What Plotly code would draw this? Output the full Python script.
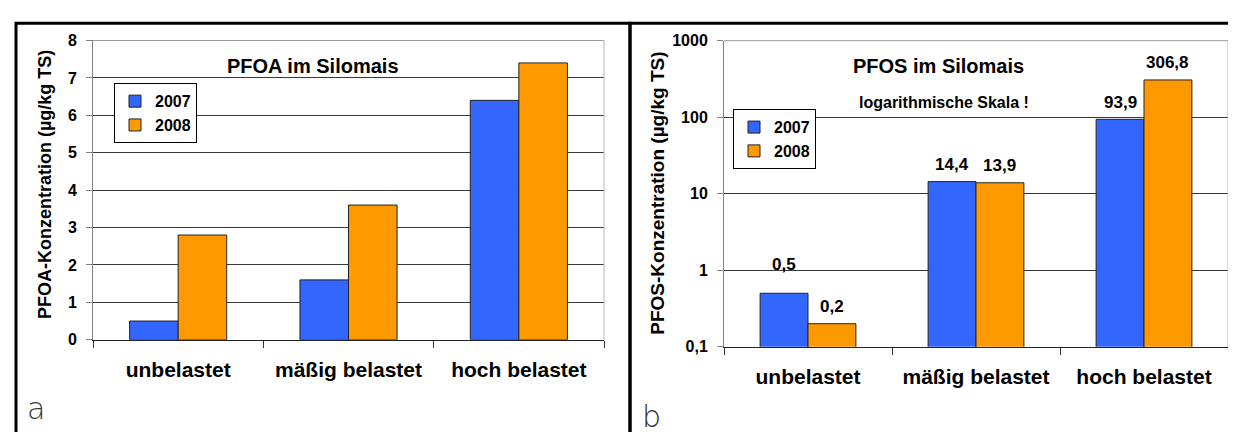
import math
import plotly.graph_objects as go

# ---------------- data ----------------
categories = ["unbelastet", "mäßig belastet", "hoch belastet"]
series_names = ["2007", "2008"]
pfoa_2007 = [0.5, 1.6, 6.4]
pfoa_2008 = [2.8, 3.6, 7.4]
pfos_2007 = [0.5, 14.4, 93.9]
pfos_2008 = [0.2, 13.9, 306.8]
pfoa_ticks = [0, 1, 2, 3, 4, 5, 6, 7, 8]
pfos_tickvals = [0.1, 1, 10, 100, 1000]
pfos_ticktext = ["0,1", "1", "10", "100", "1000"]
titles = ["PFOA im Silomais", "PFOS im Silomais"]
subtitle_b = "logarithmische Skala !"
ytitles = ["PFOA-Konzentration (µg/kg TS)", "PFOS-Konzentration (µg/kg TS)"]
panel_letters = ["a", "b"]

# ---------------- style ----------------
W, H = 1236, 432
FONT = "Liberation Sans, Arial, sans-serif"
BLUE = "#3366FF"
ORANGE = "#FF9900"
GRID = "#3a3a3a"
BARGAP = 0.43

def px_x(p):
    return p / W

def px_y(p):
    return 1 - p / H

# plot areas in pixels (left, right, top, bottom)
A = (85, 596, 25.5, 337)
B = (716, 1220, 25.7, 344.3)

fig = go.Figure()

for vals, name, col in [(pfoa_2007, series_names[0], BLUE), (pfoa_2008, series_names[1], ORANGE)]:
    fig.add_trace(go.Bar(x=categories, y=vals, name=name, marker=dict(color=col, line=dict(color="#222", width=1)),
                         xaxis="x", yaxis="y", legend="legend"))
for vals, name, col in [(pfos_2007, series_names[0], BLUE), (pfos_2008, series_names[1], ORANGE)]:
    fig.add_trace(go.Bar(x=categories, y=vals, name=name, marker=dict(color=col, line=dict(color="#222", width=1)),
                         xaxis="x2", yaxis="y2", legend="legend2"))

common_x = dict(type="category", showgrid=False, showline=True, linecolor="#222", linewidth=1,
                ticks="outside", tickson="boundaries", ticklen=7, tickcolor="#333",
                tickfont=dict(family=FONT, size=21, color="#000", weight="bold"),
                ticklabelstandoff=11, fixedrange=True)
common_y = dict(showgrid=True, gridcolor=GRID, gridwidth=1, zeroline=False, showline=True,
                linecolor="#808080", linewidth=1, ticks="outside", ticklen=6, tickcolor="#808080",
                tickfont=dict(family=FONT, size=16, color="#000", weight="bold"),
                ticklabelstandoff=6, fixedrange=True)

legend_style = dict(xanchor="left", yanchor="top", bgcolor="white", bordercolor="#000", borderwidth=1,
                    font=dict(family=FONT, size=16, color="#000", weight="bold"), tracegroupgap=0)

fig.update_layout(
    width=W, height=H, margin=dict(l=0, r=0, t=0, b=0),
    paper_bgcolor="white", plot_bgcolor="white",
    barmode="group", bargap=BARGAP, bargroupgap=0,
    xaxis=dict(domain=[px_x(A[0]), px_x(A[1])], anchor="y", **common_x),
    yaxis=dict(domain=[px_y(A[3]), px_y(A[2])], anchor="x", range=[0, 8], tickvals=pfoa_ticks, **common_y),
    xaxis2=dict(domain=[px_x(B[0]), px_x(B[1])], anchor="y2", **common_x),
    yaxis2=dict(domain=[px_y(B[3]), px_y(B[2])], anchor="x2", type="log", range=[-1, 3],
                tickvals=pfos_tickvals, ticktext=pfos_ticktext, **common_y),
    legend=dict(x=px_x(106), y=px_y(70), **legend_style),
    legend2=dict(x=px_x(725), y=px_y(97), **legend_style),
    showlegend=True,
)

shapes = []
# outer frames
for (x0, x1) in [(8, 622), (622, 1234)]:
    shapes.append(dict(type="rect", xref="paper", yref="paper", x0=px_x(x0), x1=px_x(x1),
                       y0=px_y(460), y1=px_y(7.5), line=dict(color="#000", width=3)))
# light grey plot-area borders (top and right)
for xa, ya in [("x", "y"), ("x2", "y2")]:
    shapes.append(dict(type="line", xref=xa + " domain", yref=ya + " domain", x0=1, x1=1, y0=0, y1=1,
                       line=dict(color="#b4b4b4", width=1)))
    shapes.append(dict(type="line", xref=xa + " domain", yref=ya + " domain", x0=0, x1=1, y0=1, y1=1,
                       line=dict(color="#9a9a9a", width=1)))
fig.update_layout(shapes=shapes)

ann = []
title_font = dict(family=FONT, size=20, color="#000", weight="bold")
ann.append(dict(text=titles[0], xref="paper", yref="paper", x=px_x(304.5), y=px_y(52), showarrow=False,
                xanchor="center", yanchor="middle", font=title_font))
ann.append(dict(text=titles[1], xref="paper", yref="paper", x=px_x(930), y=px_y(52), showarrow=False,
                xanchor="center", yanchor="middle", font=title_font))
ann.append(dict(text=subtitle_b, xref="paper", yref="paper", x=px_x(936), y=px_y(90), showarrow=False,
                xanchor="center", yanchor="middle", font=dict(family=FONT, size=16, color="#000", weight="bold")))
# y-axis titles
ann.append(dict(text=ytitles[0], xref="paper", yref="paper", x=px_x(37), y=px_y(176), showarrow=False,
                textangle=-90, xanchor="center", yanchor="middle",
                font=dict(family=FONT, size=18, color="#000", weight="bold")))
ann.append(dict(text=ytitles[1], xref="paper", yref="paper", x=px_x(650), y=px_y(185), showarrow=False,
                textangle=-90, xanchor="center", yanchor="middle",
                font=dict(family=FONT, size=19, color="#000", weight="bold")))
# panel letters
ann.append(dict(text=panel_letters[0], xref="paper", yref="paper", x=px_x(28), y=px_y(409), showarrow=False,
                xanchor="center", yanchor="middle", font=dict(family="DejaVu Sans", size=30, color="#333", weight=200)))
ann.append(dict(text=panel_letters[1], xref="paper", yref="paper", x=px_x(643), y=px_y(417), showarrow=False,
                xanchor="center", yanchor="middle", font=dict(family="DejaVu Sans", size=30, color="#333", weight=200)))

# data labels for PFOS (log axis)
cat_w = (B[1] - B[0]) / len(categories)
bar_w = cat_w * (1 - BARGAP) / 2
label_lift = {(0, 0): 29}
for si, series in enumerate([pfos_2007, pfos_2008]):
    for ci, v in enumerate(series):
        ann.append(dict(text=f"{v:.1f}".replace(".", ","), xref="x2", yref="y2", x=categories[ci],
                        y=math.log10(v), showarrow=False, xanchor="center", yanchor="middle",
                        xshift=(si - 0.5) * bar_w, yshift=label_lift.get((si, ci), 17),
                        font=dict(family=FONT, size=17, color="#000", weight="bold")))
fig.update_layout(annotations=ann)

fig.write_html("out.html")
